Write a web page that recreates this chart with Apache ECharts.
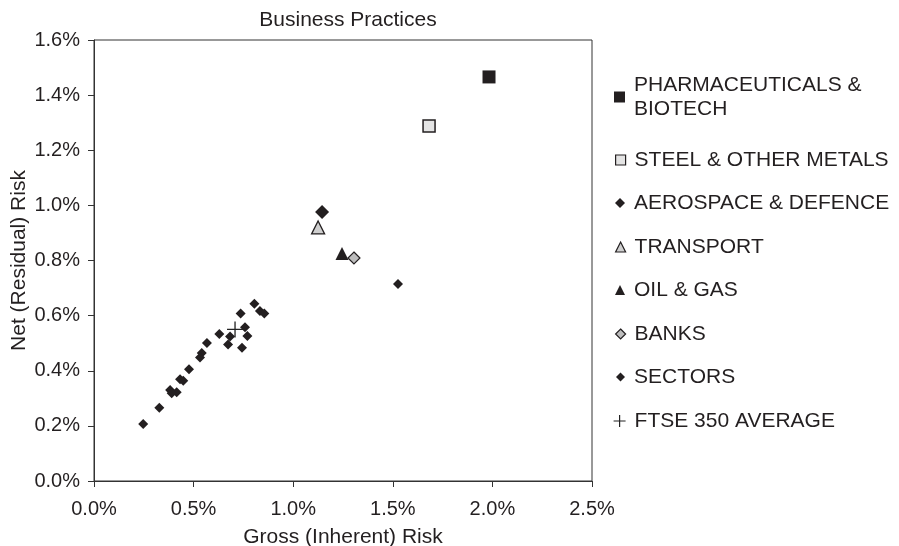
<!DOCTYPE html>
<html>
<head>
<meta charset="utf-8">
<script src="https://cdn.jsdelivr.net/npm/echarts@6/dist/echarts.min.js"></script>
<style>
  html, body { margin: 0; padding: 0; background: #fff; }
  #chart { width: 899px; height: 546px; }
</style>
</head>
<body>
<div id="chart"></div>
<script>
// values in percent: [gross risk, net risk]
const pharma = [[1.983, 1.466]];
const steel = [[1.682, 1.288]];
const aerospace = [[1.145, 0.976]];
const transport = [[1.125, 0.920]];
const oilGas = [[1.245, 0.825]];
const banks = [[1.305, 0.809]];
const sectors = [
  [1.526, 0.715],
  [0.805, 0.643], [0.833, 0.617], [0.855, 0.608], [0.736, 0.608],
  [0.758, 0.558], [0.770, 0.526], [0.629, 0.533], [0.683, 0.524],
  [0.673, 0.495], [0.743, 0.483], [0.567, 0.501], [0.541, 0.464],
  [0.532, 0.448], [0.477, 0.405], [0.432, 0.369], [0.448, 0.364],
  [0.382, 0.330], [0.415, 0.322], [0.390, 0.318], [0.328, 0.266],
  [0.247, 0.207]
];
const ftse = [[0.708, 0.550]];

const xTicks = [0, 0.5, 1.0, 1.5, 2.0, 2.5];
const yTicks = [0, 0.2, 0.4, 0.6, 0.8, 1.0, 1.2, 1.4, 1.6];

const names = [
  "PHARMACEUTICALS & BIOTECH",
  "STEEL & OTHER METALS",
  "AEROSPACE & DEFENCE",
  "TRANSPORT",
  "OIL & GAS",
  "BANKS",
  "SECTORS",
  "FTSE 350 AVERAGE",
];

const ink = "#231f20";
const font = "'Liberation Sans', Arial, sans-serif";
const crossPath = "path://M0,5L10,5M5,0L5,10";

const styles = [
  { data: pharma, symbol: "rect", size: 13, color: ink, border: ink, bw: 0, icon: 11 },
  { data: steel, symbol: "rect", size: 12, color: "#e4e4e4", border: ink, bw: 1.5, icon: 10 },
  { data: aerospace, symbol: "diamond", size: 14, color: ink, border: ink, bw: 0, icon: 10 },
  { data: transport, symbol: "triangle", size: 13, color: "#cfcfcf", border: ink, bw: 1.3, icon: 10 },
  { data: oilGas, symbol: "triangle", size: 13, color: ink, border: ink, bw: 0, icon: 10 },
  { data: banks, symbol: "diamond", size: 12, color: "#bdbdbd", border: ink, bw: 1.2, icon: 10 },
  { data: sectors, symbol: "diamond", size: 10, color: ink, border: ink, bw: 0, icon: 9 },
  { data: ftse, symbol: crossPath, size: 16, color: "rgba(0,0,0,0)", border: "#222", bw: 1.3, icon: 12 },
];

const legendCenters = [97, 160, 203, 247, 290, 334, 377, 421];

const chart = echarts.init(document.getElementById("chart"));

const legends = names.map((name, i) => {
  const st = styles[i];
  const first = i === 0;
  return {
    data: [name],
    orient: "vertical",
    left: 625 - st.icon,
    top: first ? legendCenters[i] - 36 : legendCenters[i] - 12,
    padding: 0,
    itemWidth: st.icon,
    itemHeight: st.icon,
    symbolKeepAspect: true,
    selectedMode: false,
    formatter: first ? "PHARMACEUTICALS &\nBIOTECH" : "{name}",
    itemStyle: { color: st.color, borderColor: st.border, borderWidth: st.bw > 0 ? 1.2 : 0 },
    textStyle: {
      fontFamily: font,
      fontSize: 21,
      color: ink,
      lineHeight: 24,
      padding: first ? [24, 0, 0, 4] : [0, 0, 0, 4],
    },
  };
});

const option = {
  animation: false,
  backgroundColor: "#fff",
  title: {
    text: "Business Practices",
    left: 343,
    textAlign: "center",
    top: 5,
    textStyle: { fontFamily: font, fontSize: 21, fontWeight: "normal", color: ink },
  },
  legend: legends,
  grid: {
    left: 94,
    right: 307,
    top: 40,
    bottom: 65,
    outerBoundsMode: "none",
    containLabel: false,
    show: true,
    borderColor: "#333",
    borderWidth: 1,
  },
  xAxis: {
    type: "value",
    min: xTicks[0],
    max: xTicks[xTicks.length - 1],
    interval: xTicks[1] - xTicks[0],
    name: "Gross (Inherent) Risk",
    nameLocation: "middle",
    nameGap: 46,
    nameMoveOverlap: false,
    nameTextStyle: { fontFamily: font, fontSize: 21, color: ink },
    axisLine: { lineStyle: { color: "#333", width: 1 } },
    axisTick: { show: true, length: 6, lineStyle: { color: "#333" } },
    axisLabel: {
      fontFamily: font,
      fontSize: 20,
      color: ink,
      margin: 18,
      formatter: (v) => v.toFixed(1) + "%",
    },
    splitLine: { show: false },
  },
  yAxis: {
    type: "value",
    min: yTicks[0],
    max: yTicks[yTicks.length - 1],
    interval: yTicks[1] - yTicks[0],
    name: "Net (Residual) Risk",
    nameLocation: "middle",
    nameGap: 64,
    nameMoveOverlap: false,
    nameTextStyle: { fontFamily: font, fontSize: 21, color: ink },
    axisLine: { lineStyle: { color: "#333", width: 1 } },
    axisTick: { show: true, length: 6, lineStyle: { color: "#333" } },
    axisLabel: {
      fontFamily: font,
      fontSize: 20,
      color: ink,
      margin: 14,
      formatter: (v) => v.toFixed(1) + "%",
    },
    splitLine: { show: false },
  },
  series: names.map((name, i) => {
    const st = styles[i];
    return {
      name: name,
      type: "scatter",
      data: st.data,
      symbol: st.symbol,
      symbolSize: st.size,
      symbolKeepAspect: true,
      itemStyle: {
        color: st.color,
        borderColor: st.border,
        borderWidth: st.bw,
        opacity: 1,
      },
      emphasis: { disabled: true },
      z: 2 + i,
    };
  }),
};

chart.setOption(option);
</script>
</body>
</html>
